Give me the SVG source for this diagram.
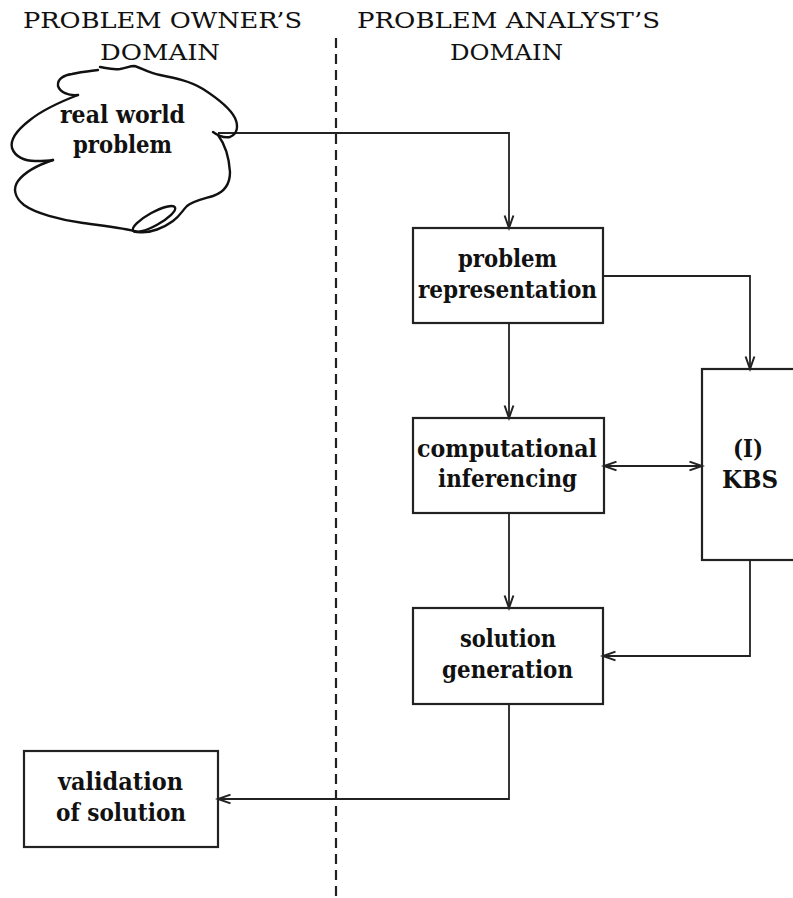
<svg xmlns="http://www.w3.org/2000/svg" width="793" height="898" viewBox="0 0 793 898">
<defs>
<style>
.hdr{font-family:"DejaVu Serif","Liberation Serif",serif;font-size:23px;fill:#111}
.lbl{font-family:"DejaVu Serif","Liberation Serif",serif;font-size:24px;font-weight:bold;fill:#111}
.box{fill:none;stroke:#222;stroke-width:2.2}
.con{fill:none;stroke:#222;stroke-width:1.8}
.cloud{fill:none;stroke:#111;stroke-width:2.4;stroke-linecap:round;stroke-linejoin:round}
.div{stroke:#222;stroke-width:2.2;stroke-dasharray:10 6}
</style>
<marker id="arr" viewBox="0 0 13 10" refX="12.5" refY="5" markerWidth="13" markerHeight="10" markerUnits="userSpaceOnUse" orient="auto-start-reverse" overflow="visible">
<path d="M0,0.6 L12.5,5 L0,9.4" fill="none" stroke="#222" stroke-width="2"/>
</marker>
</defs>
<rect width="793" height="898" fill="#fff"/>

<g id="headers">
<text class="hdr" x="23" y="28" textLength="279" lengthAdjust="spacingAndGlyphs">PROBLEM OWNER’S</text>
<text class="hdr" x="100" y="60" textLength="120" lengthAdjust="spacingAndGlyphs">DOMAIN</text>
<text class="hdr" x="357" y="28" textLength="303" lengthAdjust="spacingAndGlyphs">PROBLEM ANALYST’S</text>
<text class="hdr" x="450" y="60" textLength="113" lengthAdjust="spacingAndGlyphs">DOMAIN</text>
</g>

<g id="divider">
<line class="div" x1="336" y1="38" x2="336" y2="898"/>
</g>

<g id="connectors">
<path class="con" d="M218,133 H509 V228" marker-end="url(#arr)"/>
<path class="con" d="M603,276 H750 V369" marker-end="url(#arr)"/>
<path class="con" d="M509,323 V418" marker-end="url(#arr)"/>
<path class="con" d="M604,466 H702" marker-start="url(#arr)" marker-end="url(#arr)"/>
<path class="con" d="M509,513 V608" marker-end="url(#arr)"/>
<path class="con" d="M750,560 V656 H603" marker-end="url(#arr)"/>
<path class="con" d="M509,704 V799 H218" marker-end="url(#arr)"/>
</g>

<g id="real-world-problem">
<path class="cloud" d="M78,95 C68,96 60,92 58,86 C57,79 64,75 72,74 C80,72 90,71 98,70"/>
<path class="cloud" d="M100,67 C106,68 112,70 120,69 C126,68 130,66 134,66 C140,67 148,73 160,75 C175,78 190,81 203,89 C217,98 230,108 235,118 C239,127 237,134 230,137 C224,138 217,135 213,132"/>
<path class="cloud" d="M218,135 C224,143 229,157 230,172 C230,184 225,192 213,196 C203,199 193,201 187,206 C182,211 180,216 173,221 C165,227 150,234 138,232 C125,228 105,226 83,223 C60,220 35,213 24,205 C14,197 13,188 18,181 C24,173 38,165 53,160"/>
<path class="cloud" d="M78,95 C65,100 45,108 30,120 C17,130 10,140 12,148 C15,157 25,161 35,161 C43,161 48,161 53,160"/>
<ellipse class="cloud" cx="154" cy="219" rx="24" ry="6.5" transform="rotate(-29 154 219)"/>
<text class="lbl" x="60" y="123" textLength="125" lengthAdjust="spacingAndGlyphs">real world</text>
<text class="lbl" x="73" y="153" textLength="99" lengthAdjust="spacingAndGlyphs">problem</text>
</g>

<g id="problem-representation">
<rect class="box" x="413" y="228" width="190" height="95"/>
<text class="lbl" x="458" y="267" textLength="99" lengthAdjust="spacingAndGlyphs">problem</text>
<text class="lbl" x="418" y="298" textLength="179" lengthAdjust="spacingAndGlyphs">representation</text>
</g>

<g id="computational-inferencing">
<rect class="box" x="413" y="418" width="191" height="95"/>
<text class="lbl" x="417" y="457" textLength="180" lengthAdjust="spacingAndGlyphs">computational</text>
<text class="lbl" x="438" y="487" textLength="139" lengthAdjust="spacingAndGlyphs">inferencing</text>
</g>

<g id="kbs">
<rect class="box" x="702" y="369" width="130" height="191"/>
<text class="lbl" x="733" y="457" textLength="30" lengthAdjust="spacingAndGlyphs">(I)</text>
<text class="lbl" x="722" y="488" textLength="56" lengthAdjust="spacingAndGlyphs">KBS</text>
</g>

<g id="solution-generation">
<rect class="box" x="413" y="608" width="190" height="96"/>
<text class="lbl" x="460" y="647" textLength="96" lengthAdjust="spacingAndGlyphs">solution</text>
<text class="lbl" x="442" y="678" textLength="131" lengthAdjust="spacingAndGlyphs">generation</text>
</g>

<g id="validation-of-solution">
<rect class="box" x="24" y="751" width="194" height="96"/>
<text class="lbl" x="58" y="790" textLength="125" lengthAdjust="spacingAndGlyphs">validation</text>
<text class="lbl" x="56" y="821" textLength="130" lengthAdjust="spacingAndGlyphs">of solution</text>
</g>
</svg>
